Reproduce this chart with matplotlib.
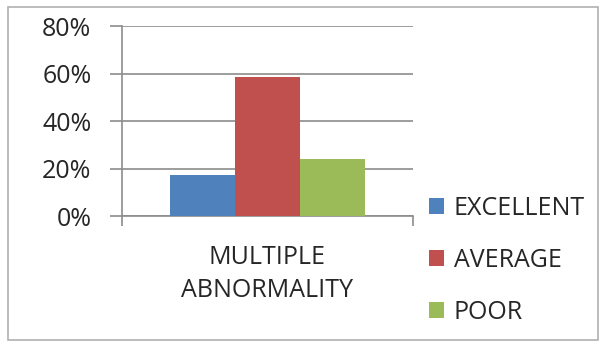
import matplotlib
matplotlib.use("Agg")
import matplotlib.pyplot as plt
from matplotlib.patches import Rectangle

categories = ["MULTIPLE\nABNORMALITY"]
series_names = ["EXCELLENT", "AVERAGE", "POOR"]
series_values = [17.4, 58.7, 23.9]
series_colors = ["#4F81BD", "#C0504D", "#9BBB59"]
y_ticks = [0, 20, 40, 60, 80]
y_tick_labels = ["0%", "20%", "40%", "60%", "80%"]

plt.rcParams["font.family"] = ["Open Sans", "DejaVu Sans"]
TEXT_COLOR = "#262626"
AXIS_COLOR = "#8c8c8c"
FS = 18

fig = plt.figure(figsize=(6.03, 3.44), dpi=100)
fig.patch.set_facecolor("white")
fig.add_artist(Rectangle((0.013, 0.012), 0.978, 0.968, transform=fig.transFigure,
                         fill=False, edgecolor="#b0b0b0", linewidth=1.2))

ax = fig.add_axes([0.2023, 0.372, 0.4826, 0.5524])
bar_w = 0.224
offsets = [-bar_w, 0.0, bar_w]
for name, val, col, off in zip(series_names, series_values, series_colors, offsets):
    ax.bar(off, val, width=bar_w, color=col, label=name, zorder=3)

ax.set_xlim(-0.5, 0.5)
ax.set_ylim(0, 80)
ax.set_yticks(y_ticks)
ax.set_yticklabels(y_tick_labels, fontsize=FS, color=TEXT_COLOR)
ax.yaxis.grid(True, color=AXIS_COLOR, linewidth=1.2, zorder=0)
ax.set_axisbelow(True)

# category axis: single category, ticks at its boundaries
ax.set_xticks([-0.5, 0.5])
ax.set_xticklabels(["", ""])
ax.tick_params(axis="x", length=7, width=1.2, color=AXIS_COLOR)
ax.tick_params(axis="y", length=9, width=1.2, color=AXIS_COLOR, pad=13)
ax.text(0.0, -0.155, categories[0], transform=ax.get_xaxis_transform(),
        ha="center", va="top", fontsize=FS, color=TEXT_COLOR, linespacing=1.42)

for side in ["top", "right"]:
    ax.spines[side].set_visible(False)
for side in ["left", "bottom"]:
    ax.spines[side].set_color(AXIS_COLOR)
    ax.spines[side].set_linewidth(1.2)

leg = fig.legend(loc="upper left", bbox_to_anchor=(0.711, 0.43), frameon=False,
                 fontsize=FS, handlelength=0.6, handleheight=0.6,
                 handletextpad=0.4, labelspacing=1.08, borderpad=0,
                 borderaxespad=0)
for t in leg.get_texts():
    t.set_color(TEXT_COLOR)

fig.savefig("out.png", dpi=100, facecolor="white")
